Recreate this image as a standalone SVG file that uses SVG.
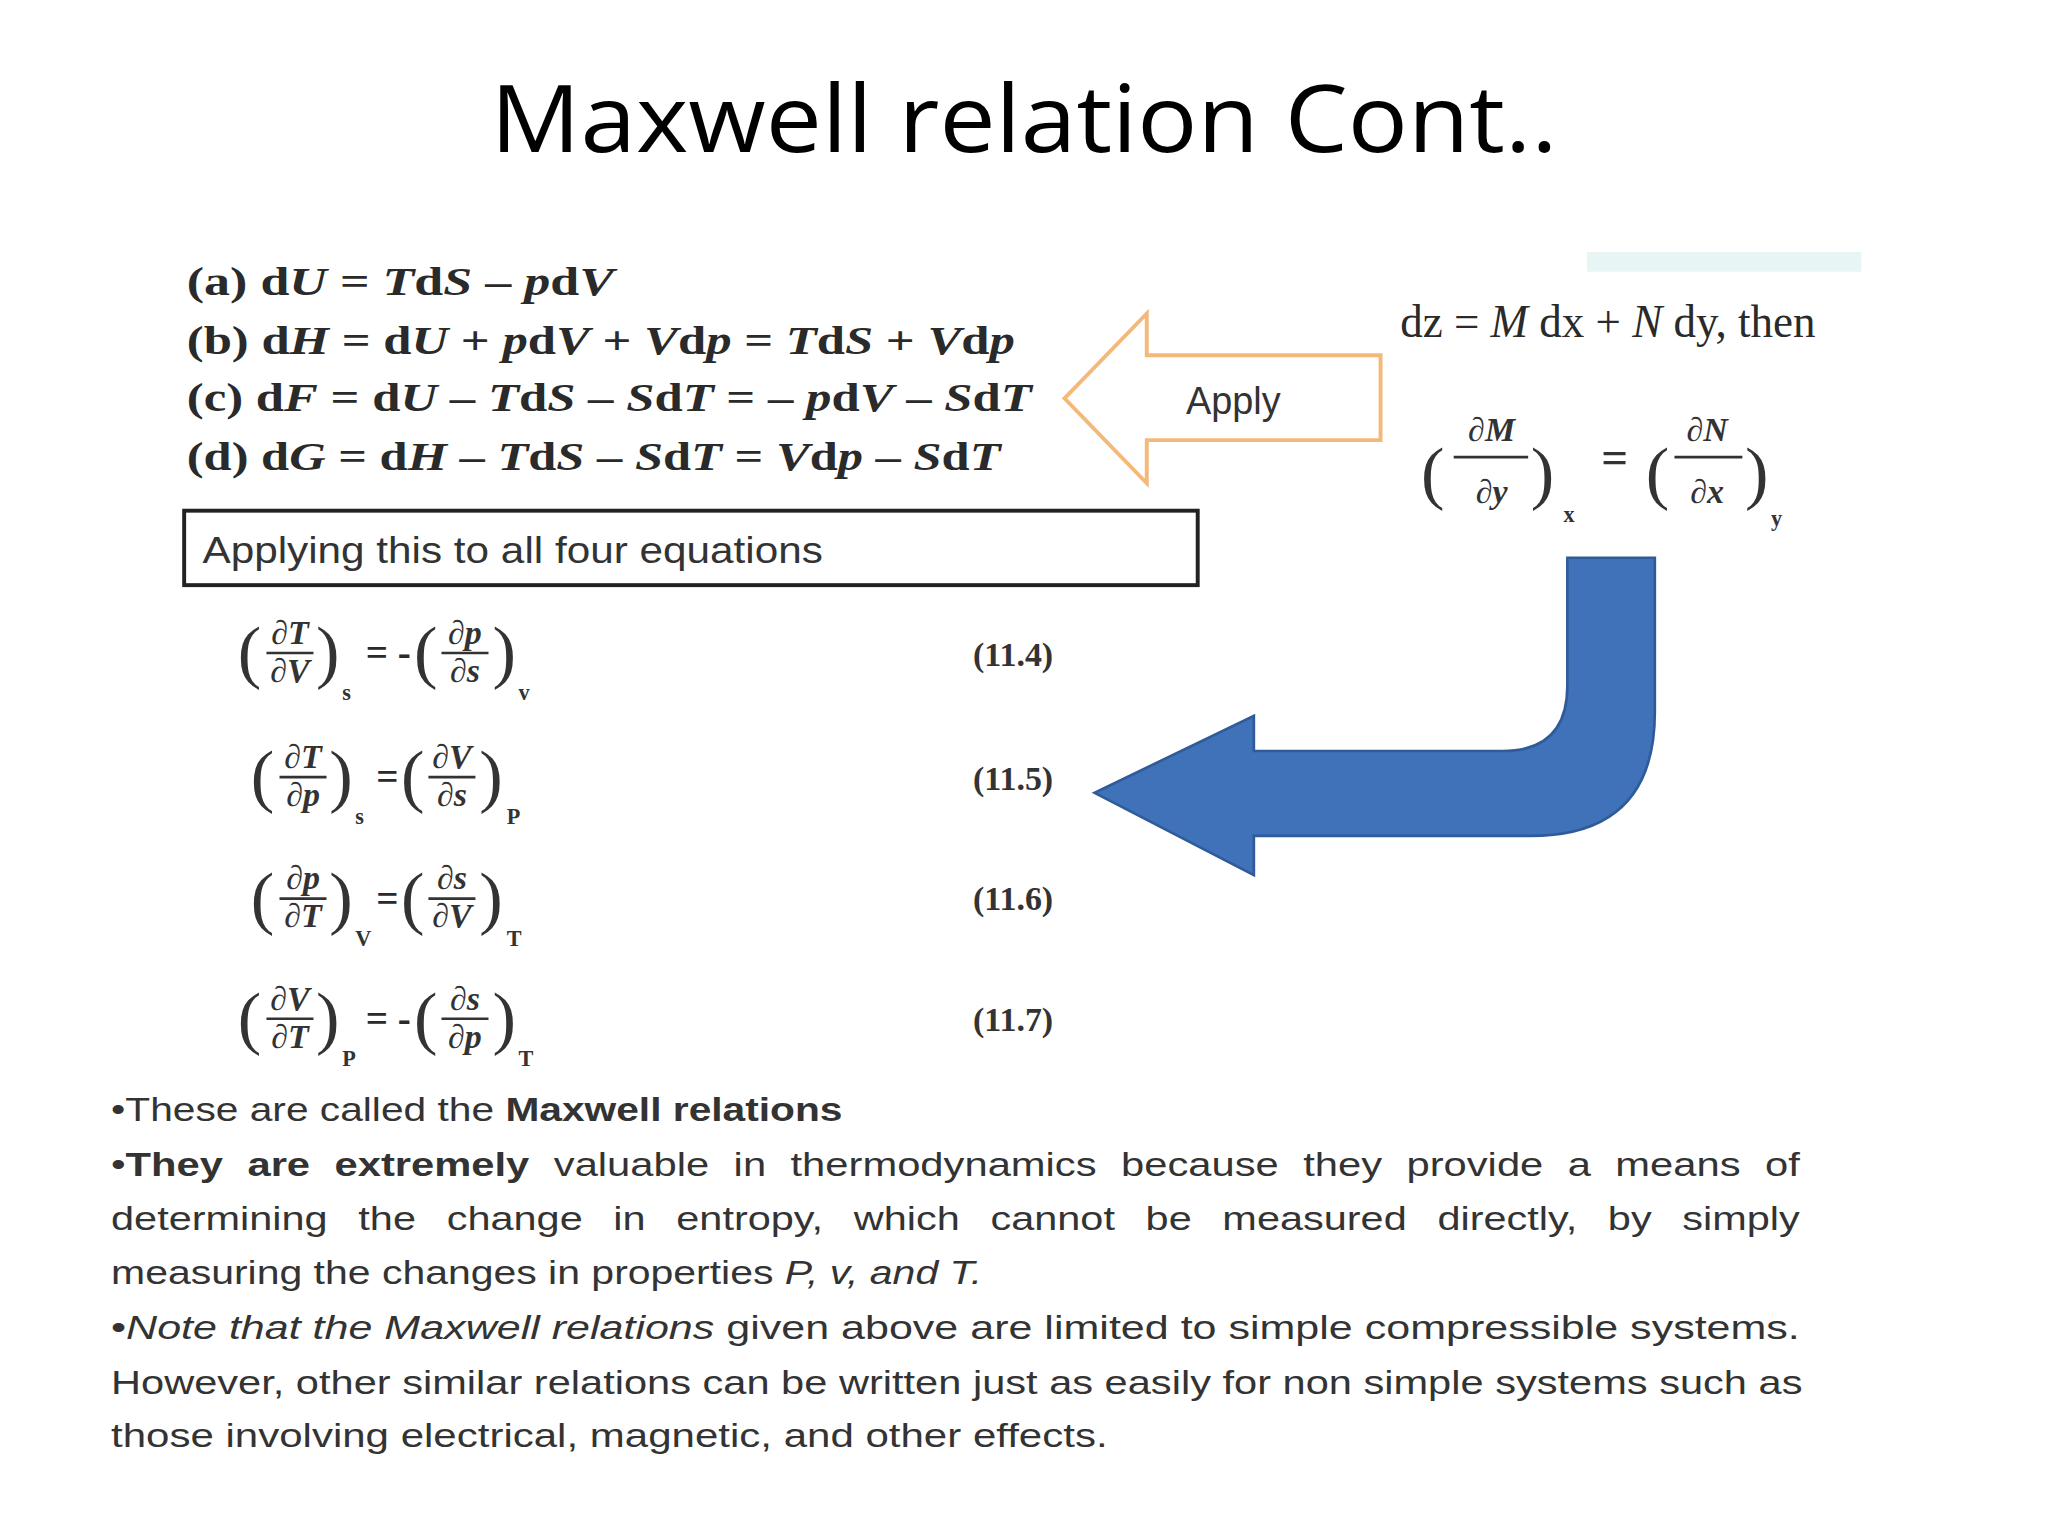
<svg xmlns="http://www.w3.org/2000/svg" width="2048" height="1536" viewBox="0 0 2048 1536">
<style>
.eq{font-family:"Liberation Serif",serif;font-weight:bold;font-size:30px;fill:#2a2a2a}
.i{font-style:italic}
.fr{font-family:"Liberation Serif",serif;font-weight:bold;font-style:italic;font-size:26px;fill:#333;text-anchor:middle}
.par{font-family:"Liberation Serif",serif;font-size:54px;fill:#333}
.sub{font-family:"Liberation Serif",serif;font-weight:bold;font-size:17px;fill:#333}
.num{font-family:"Liberation Serif",serif;font-weight:bold;font-size:26px;fill:#333}
.bt{font-family:"Liberation Sans",sans-serif;font-size:26px;fill:#333}
.b{font-weight:bold}
.fl{stroke:#333;stroke-width:2}
</style>
<rect width="2048" height="1536" fill="#fff"/>
<g transform="scale(1.30612)">
<g id="title"><text x="784" y="116" text-anchor="middle" font-family="Open Sans, sans-serif" font-size="72" fill="#000" textLength="817" lengthAdjust="spacingAndGlyphs">Maxwell relation Cont..</text></g>
<rect x="1215" y="193" width="210" height="15" fill="#e8f5f5"/>
<g id="equations">
<text class="eq" x="143" y="226" textLength="327" lengthAdjust="spacingAndGlyphs">(a)  d<tspan class="i">U</tspan> = <tspan class="i">T</tspan>d<tspan class="i">S</tspan> – <tspan class="i">p</tspan>d<tspan class="i">V</tspan></text>
<text class="eq" x="143" y="271" textLength="634" lengthAdjust="spacingAndGlyphs">(b)  d<tspan class="i">H</tspan> = d<tspan class="i">U</tspan> + <tspan class="i">p</tspan>d<tspan class="i">V</tspan> + <tspan class="i">V</tspan>d<tspan class="i">p</tspan> = <tspan class="i">T</tspan>d<tspan class="i">S</tspan> + <tspan class="i">V</tspan>d<tspan class="i">p</tspan></text>
<text class="eq" x="143" y="315" textLength="647" lengthAdjust="spacingAndGlyphs">(c)  d<tspan class="i">F</tspan> = d<tspan class="i">U</tspan> – <tspan class="i">T</tspan>d<tspan class="i">S</tspan> – <tspan class="i">S</tspan>d<tspan class="i">T</tspan> = – <tspan class="i">p</tspan>d<tspan class="i">V</tspan> – <tspan class="i">S</tspan>d<tspan class="i">T</tspan></text>
<text class="eq" x="143" y="360" textLength="623" lengthAdjust="spacingAndGlyphs">(d)  d<tspan class="i">G</tspan> = d<tspan class="i">H</tspan> – <tspan class="i">T</tspan>d<tspan class="i">S</tspan> – <tspan class="i">S</tspan>d<tspan class="i">T</tspan> = <tspan class="i">V</tspan>d<tspan class="i">p</tspan> – <tspan class="i">S</tspan>d<tspan class="i">T</tspan></text>
</g>
<g id="applyBox"><rect x="141" y="391" width="776" height="57" fill="#fff" stroke="#222" stroke-width="3"/>
<text x="155" y="431" font-family="Liberation Sans, sans-serif" font-size="28" fill="#333" textLength="475" lengthAdjust="spacingAndGlyphs">Applying this to all four equations</text></g>
<g id="rightRule">
<text x="1072" y="258" font-family="Liberation Serif, serif" font-size="36" fill="#2a2a2a" textLength="318" lengthAdjust="spacingAndGlyphs">dz = <tspan font-style="italic">M</tspan> dx + <tspan font-style="italic">N</tspan> dy, then</text>
<text class="par" x="1088" y="380" font-size="80">(</text>
<text class="fr" x="1142" y="338" font-size="36">∂M</text><line class="fl" x1="1113" y1="350" x2="1170" y2="350"/><text class="fr" x="1142" y="385" font-size="36">∂y</text>
<text class="par" x="1172" y="380" font-size="80">)</text><text class="sub" x="1197" y="400">x</text>
<text x="1226" y="362" font-family="Liberation Serif, serif" font-size="36" font-weight="bold" fill="#333">=</text>
<text class="par" x="1260" y="380" font-size="80">(</text>
<text class="fr" x="1307" y="338" font-size="36">∂N</text><line class="fl" x1="1282" y1="350" x2="1334" y2="350"/><text class="fr" x="1307" y="385" font-size="36">∂x</text>
<text class="par" x="1336" y="380" font-size="80">)</text><text class="sub" x="1356" y="403">y</text>
</g>
<g id="maxwell">
<g transform="translate(182,500)">
<text class="par" x="0" y="17">(</text><text class="fr" x="40" y="-7">∂T</text><line class="fl" x1="22" y1="0" x2="58" y2="0"/><text class="fr" x="40" y="22">∂V</text><text class="par" x="60" y="17">)</text><text class="sub" x="80" y="36">s</text>
<text x="98" y="10" class="eq" font-size="22">= -</text>
<text class="par" x="135" y="17">(</text><text class="fr" x="174" y="-7">∂p</text><line class="fl" x1="156" y1="0" x2="192" y2="0"/><text class="fr" x="174" y="22">∂s</text><text class="par" x="195" y="17">)</text><text class="sub" x="215" y="36">v</text>
</g>
<g transform="translate(192,595)">
<text class="par" x="0" y="17">(</text><text class="fr" x="40" y="-7">∂T</text><line class="fl" x1="22" y1="0" x2="58" y2="0"/><text class="fr" x="40" y="22">∂p</text><text class="par" x="60" y="17">)</text><text class="sub" x="80" y="36">s</text>
<text x="96" y="10" class="eq" font-size="22">=</text>
<text class="par" x="115" y="17">(</text><text class="fr" x="154" y="-7">∂V</text><line class="fl" x1="136" y1="0" x2="172" y2="0"/><text class="fr" x="154" y="22">∂s</text><text class="par" x="175" y="17">)</text><text class="sub" x="196" y="36">P</text>
</g>
<g transform="translate(192,688)">
<text class="par" x="0" y="17">(</text><text class="fr" x="40" y="-7">∂p</text><line class="fl" x1="22" y1="0" x2="58" y2="0"/><text class="fr" x="40" y="22">∂T</text><text class="par" x="60" y="17">)</text><text class="sub" x="80" y="36">V</text>
<text x="96" y="10" class="eq" font-size="22">=</text>
<text class="par" x="115" y="17">(</text><text class="fr" x="154" y="-7">∂s</text><line class="fl" x1="136" y1="0" x2="172" y2="0"/><text class="fr" x="154" y="22">∂V</text><text class="par" x="175" y="17">)</text><text class="sub" x="196" y="36">T</text>
</g>
<g transform="translate(182,780)">
<text class="par" x="0" y="17">(</text><text class="fr" x="40" y="-7">∂V</text><line class="fl" x1="22" y1="0" x2="58" y2="0"/><text class="fr" x="40" y="22">∂T</text><text class="par" x="60" y="17">)</text><text class="sub" x="80" y="36">P</text>
<text x="98" y="10" class="eq" font-size="22">= -</text>
<text class="par" x="135" y="17">(</text><text class="fr" x="174" y="-7">∂s</text><line class="fl" x1="156" y1="0" x2="192" y2="0"/><text class="fr" x="174" y="22">∂p</text><text class="par" x="195" y="17">)</text><text class="sub" x="215" y="36">T</text>
</g>
<text class="num" x="745" y="510">(11.4)</text>
<text class="num" x="745" y="605">(11.5)</text>
<text class="num" x="745" y="697">(11.6)</text>
<text class="num" x="745" y="789">(11.7)</text>
</g>
<g id="connectors">
<g id="applyArrow"><path d="M815,305 L878,240 L878,272 L1057,272 L1057,337 L878,337 L878,370 Z" fill="#fff" stroke="#f4b97a" stroke-width="3" stroke-linejoin="miter"/>
<text x="908" y="317" font-family="Liberation Sans, sans-serif" font-size="29" fill="#333">Apply</text></g>
<path id="blueArrow" d="M1200,427 L1267,427 L1267,545 Q1267,640 1172,640 L960,640 L960,670 L838,607 L960,548 L960,575 L1150,575 Q1200,575 1200,525 Z" fill="#3f72b8" stroke="#2f5b99" stroke-width="2"/>
</g>
<g id="bullets">
<text class="bt" x="85" y="858" textLength="560" lengthAdjust="spacingAndGlyphs">•These are called the <tspan class="b">Maxwell relations</tspan></text>
<text class="bt" x="85" y="900" textLength="1293" lengthAdjust="spacingAndGlyphs" word-spacing="8">•<tspan class="b">They are extremely</tspan> valuable in thermodynamics because they provide a means of</text>
<text class="bt" x="85" y="942" textLength="1293" lengthAdjust="spacingAndGlyphs" word-spacing="12">determining the change in entropy, which cannot be measured directly, by simply</text>
<text class="bt" x="85" y="983" textLength="667" lengthAdjust="spacingAndGlyphs">measuring the changes in properties <tspan font-style="italic">P, v, and T.</tspan></text>
<text class="bt" x="85" y="1025" textLength="1293" lengthAdjust="spacingAndGlyphs">•<tspan font-style="italic">Note that the Maxwell relations</tspan> given above are limited to simple compressible systems.</text>
<text class="bt" x="85" y="1067" textLength="1295" lengthAdjust="spacingAndGlyphs">However, other similar relations can be written just as easily for non simple systems such as</text>
<text class="bt" x="85" y="1108" textLength="763" lengthAdjust="spacingAndGlyphs">those involving electrical, magnetic, and other effects.</text>
</g>
</g>
</svg>
